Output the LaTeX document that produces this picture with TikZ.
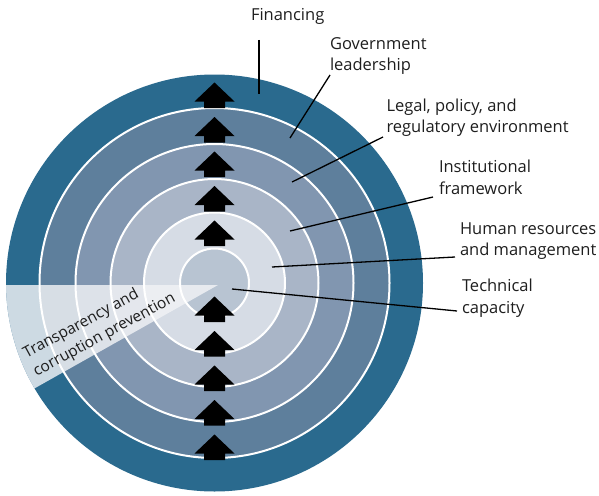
\documentclass[tikz,border=0pt]{standalone}
\usepackage{fontspec}
\setmainfont{Open Sans}
\usetikzlibrary{calc}

\definecolor{ringF}{HTML}{2A6A8E}
\definecolor{ringG}{HTML}{5E7F9C}
\definecolor{ringL}{HTML}{8196B0}
\definecolor{ringI}{HTML}{A9B5C7}
\definecolor{ringH}{HTML}{D6DCE5}
\definecolor{ringT}{HTML}{B8C4D2}
\definecolor{veil}{HTML}{F2F3F6}
\definecolor{inktext}{HTML}{1E1E1E}

\begin{document}
\begin{tikzpicture}[x=1pt,y=-1pt,
  lbl/.style={font=\fontsize{16.5}{21.5}\selectfont, text=inktext, align=left,
              anchor=base west, inner sep=0pt, outer sep=0pt},
  leader/.style={draw=black, line width=1.3pt},
  ringline/.style={draw=white, line width=2pt},
  uparrow/.pic={\fill[black] (0,0) -- (20,19) -- (10.5,19) -- (10.5,25.5)
                -- (-10.5,25.5) -- (-10.5,19) -- (-20,19) -- cycle;}]

\useasboundingbox (0,0) rectangle (599,495);

% concentric bands, outermost first
\coordinate (c) at (214.5,283);
\fill[ringF] (c) circle[radius=208.5];
\fill[ringG] (c) circle[radius=175];
\fill[ringL] (c) circle[radius=139];
\fill[ringI] (c) circle[radius=104];
\fill[ringH] (c) circle[radius=70.5];
\fill[ringT] (c) circle[radius=34.5];

% translucent wedge for transparency and corruption prevention
\coordinate (apex) at (218,285);
\begin{scope}
  \clip (c) circle[radius=208.5];
  \fill[veil, opacity=0.82] (apex) -- ($(apex)+(180:300)$) -- ($(apex)+(150.6:300)$) -- cycle;
\end{scope}

% white separators between the bands
\foreach \r in {34.5,70.5,104,139,175}
  \draw[ringline] (c) circle[radius=\r];

% multi-line nodes sit on the baseline of their last line
\node[font=\fontsize{15.5}{21}\selectfont, text=inktext, align=left, anchor=base west,
      inner sep=0pt, rotate=28.5] (wedge) at (36.5,377)
  {Transparency and\\corruption prevention};

% upward arrows through every band
\foreach \t in {82.5,117,151.5,186,220.5,296.5,331,365.5,400,434.5}
  \pic at (214.5,\t) {uparrow};

% labels
\node[lbl] (fin) at (251,20.5) {Financing};
\node[lbl] (gov) at (330,70.5) {Government\\leadership};
\node[lbl] (leg) at (386.5,132.5) {Legal, policy, and\\regulatory environment};
\node[lbl] (ins) at (439,194) {Institutional\\framework};
\node[lbl] (hum) at (460,255.5) {Human resources\\and management};
\node[lbl] (tec) at (462,313) {Technical\\capacity};

% leader lines
\coordinate (finO) at (259,40);    \coordinate (finI) at (259,94);
\coordinate (govO) at (330,75);    \coordinate (govI) at (290,138);
\coordinate (legO) at (383,137);   \coordinate (legI) at (292,182);
\coordinate (insO) at (433,197);   \coordinate (insI) at (290,231);
\coordinate (humO) at (455,257);   \coordinate (humI) at (272,267);
\coordinate (tecO) at (457,311);   \coordinate (tecI) at (232,289);
\draw[leader] (finO) -- (finI);
\draw[leader] (govO) -- (govI);
\draw[leader] (legO) -- (legI);
\draw[leader] (insO) -- (insI);
\draw[leader] (humO) -- (humI);
\draw[leader] (tecO) -- (tecI);
\end{tikzpicture}
\end{document}
